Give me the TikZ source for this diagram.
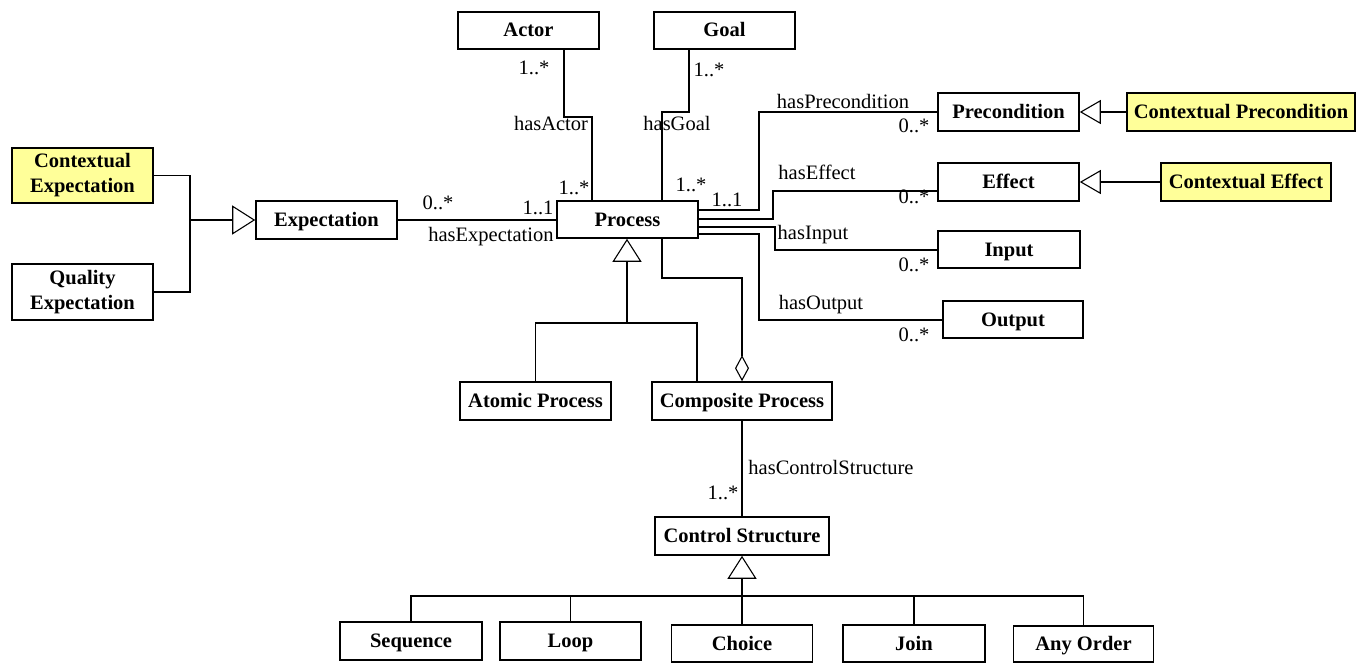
\documentclass[tikz,border=0pt]{standalone}
\usepackage{fontspec}
\setmainfont{Liberation Serif}
\usetikzlibrary{arrows.meta}
\definecolor{ctxyellow}{RGB}{255,255,153}
\begin{document}
\begin{tikzpicture}[x=1pt,y=-1pt,
  every node/.style={font=\fontsize{20.5}{25}\selectfont},
  boxbase/.style={draw, line width=1.6pt, inner sep=0pt, font=\fontsize{20.5}{25}\selectfont\bfseries, align=center},
  box/.style={boxbase, text height=16pt, text depth=3pt},
  box2/.style={boxbase},
  ctx/.style={box, fill=ctxyellow},
  ctx2/.style={box2, fill=ctxyellow},
  conn/.style={draw, line width=1.1pt},
  gen/.style={conn, -{Triangle[open,length=23pt,width=29pt,line width=1.1pt]}},
  genh/.style={conn, -{Triangle[open,length=21pt,width=24pt,line width=1.1pt]}},
  agg/.style={conn, -{Diamond[open,length=26pt,width=14pt,line width=1.1pt]}},
  lbl/.style={inner sep=0pt}
]
\useasboundingbox (0,0) rectangle (1357,663);

% classes
\node[box, minimum width=141, minimum height=37] (actor) at (528.5,30.5) {Actor};
\node[box, minimum width=141, minimum height=37] (goal) at (724.5,30.5) {Goal};
\node[box, minimum width=141, minimum height=37] (process) at (627.5,219.5) {Process};
\node[box, minimum width=141, minimum height=38] (precond) at (1008.5,112) {Precondition};
\node[ctx, minimum width=228, minimum height=38] (ctxpre) at (1241,112) {Contextual Precondition};
\node[box, minimum width=141, minimum height=38] (effect) at (1008.5,182) {Effect};
\node[ctx, minimum width=170, minimum height=38] (ctxeff) at (1246,182) {Contextual Effect};
\node[box, minimum width=142, minimum height=37] (input) at (1009,249.5) {Input};
\node[box, minimum width=140, minimum height=37] (output) at (1013,319.5) {Output};
\node[ctx2, minimum width=141, minimum height=55] (ctxexp) at (82.5,175.5) {Contextual\\Expectation};
\node[box2, minimum width=141, minimum height=56] (qualexp) at (82.5,292) {Quality\\Expectation};
\node[box, minimum width=141, minimum height=38] (expect) at (326.5,220) {Expectation};
\node[box, minimum width=151, minimum height=38] (atomic) at (535.5,401) {Atomic Process};
\node[box, minimum width=180, minimum height=38] (composite) at (742,401) {Composite Process};
\node[box, minimum width=174, minimum height=38] (control) at (742,536) {Control Structure};
\node[box, minimum width=142, minimum height=38] (sequence) at (411,641) {Sequence};
\node[box, minimum width=141, minimum height=38] (loop) at (570.5,641) {Loop};
\node[box, minimum width=141, minimum height=37] (choice) at (742,643.5) {Choice};
\node[box, minimum width=142, minimum height=37] (join) at (914,643.5) {Join};
\node[box, minimum width=140, minimum height=36] (anyorder) at (1083.5,644) {Any Order};

% associations of Process
\draw[conn] (actor.south -| 564,0) |- (592,117) -- (process.north -| 592,0);
\draw[conn] (goal.south -| 689,0) |- (662,112) -- (process.north -| 662,0);
\draw[conn] (process.east |- 0,210) -| (759,112) -- (precond.west);
\draw[conn] (process.east |- 0,219) -| (773,191) -- (effect.west |- 0,191);
\draw[conn] (process.east |- 0,227) -| (775,250) -- (input.west |- 0,250);
\draw[conn] (process.east |- 0,234) -| (759,320) -- (output.west |- 0,320);
\draw[conn] (expect.east) -- (process.west |- expect.east);

% specialisations
\draw[genh] (ctxpre.west) -- (precond.east);
\draw[genh] (ctxeff.west) -- (effect.east);
\coordinate (expj) at (190,220);
\draw[conn] (ctxexp.east) -| (expj) |- (qualexp.east);
\draw[gen] (expj) -- (expect.west);
\coordinate (procj) at (627,323);
\draw[conn] (atomic.north) |- (697,323) -- (composite.north -| 697,0);
\draw[gen] (procj) -- (process.south -| procj);

% aggregation and control structures
\draw[agg] (process.south -| 662,0) |- (742,278) -- (composite.north);
\draw[conn] (composite.south) -- (control.north);
\coordinate (ctlj) at (742,596);
\draw[gen] (ctlj) -- (control.south);
\draw[conn] (sequence.north) |- (anyorder.north |- ctlj) -- (anyorder.north);
\draw[conn] (loop.north) -- (loop.north |- ctlj);
\draw[conn] (choice.north) -- (choice.north |- ctlj);
\draw[conn] (join.north) -- (join.north |- ctlj);

% role names and multiplicities
\node[lbl] (m1) at (534,68) {1..*};
\node[lbl] (l1) at (551,123) {hasActor};
\node[lbl] (m2) at (574,188) {1..*};
\node[lbl] (m3) at (709,70) {1..*};
\node[lbl] (l2) at (677,123) {hasGoal};
\node[lbl] (m4) at (691,185) {1..*};
\node[lbl] (m5) at (727,200) {1..1};
\node[lbl] (m6) at (538,208) {1..1};
\node[lbl] (m7) at (438,203) {0..*};
\node[lbl] (l3) at (491,237) {hasExpectation};
\node[lbl] (l4) at (843,101) {hasPrecondition};
\node[lbl] (m8) at (914,126) {0..*};
\node[lbl] (l5) at (817,172) {hasEffect};
\node[lbl] (m9) at (914,197) {0..*};
\node[lbl] (l6) at (813,235) {hasInput};
\node[lbl] (m10) at (914,265) {0..*};
\node[lbl] (l7) at (821,305) {hasOutput};
\node[lbl] (m11) at (914,335) {0..*};
\node[lbl] (l8) at (831,467) {hasControlStructure};
\node[lbl] (m12) at (723,493) {1..*};
\end{tikzpicture}
\end{document}
